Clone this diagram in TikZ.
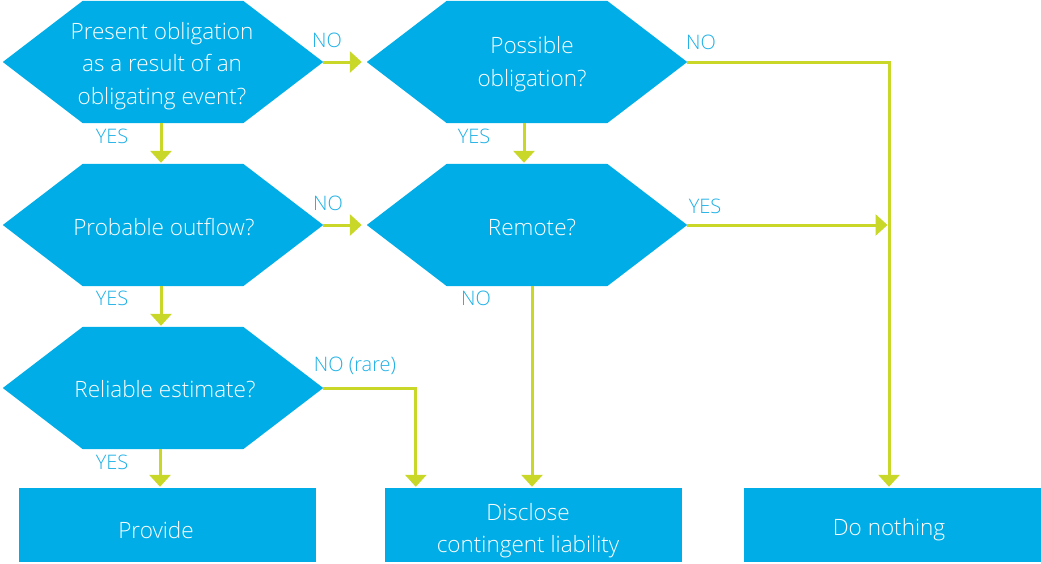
\documentclass[tikz,border=0pt]{standalone}
\usepackage{fontspec}
\IfFontExistsTF{Open Sans Light}{\setmainfont{Open Sans Light}}{\setmainfont{Open Sans}}
\usetikzlibrary{arrows.meta,calc}
\definecolor{qblue}{RGB}{0,173,230}
\definecolor{lblue}{RGB}{30,176,230}
\definecolor{lime}{RGB}{200,215,40}
\begin{document}
\begin{tikzpicture}[x=1pt,y=-1pt,
  font=\fontsize{22.5}{32.5}\selectfont,
  hex/.style={minimum width=320pt, minimum height=122pt, inner sep=0pt},
  box/.style={fill=qblue, minimum width=297pt, minimum height=74pt, inner sep=0pt},
  txt/.style={text=white, align=center, inner sep=0pt},
  lbl/.style={text=lblue, font=\fontsize{20}{24}\selectfont, inner sep=0pt},
  arr/.style={draw=lime, line width=3pt, line join=miter, shorten >=1pt, -{Triangle[width=21pt,length=12pt]}}]
\useasboundingbox (0,0) rectangle (1041,563);
% question hexagons
\node[hex] (h1) at (163,62) {};
\node[hex] (h2) at (163,225) {};
\node[hex] (h3) at (163,388) {};
\node[hex] (p1) at (527,62) {};
\node[hex] (r1) at (527,225) {};
\foreach \n in {h1,h2,h3,p1,r1}
  \fill[qblue] (\n.west) -- ([xshift=80pt]\n.north west) -- ([xshift=-80pt]\n.north east) -- (\n.east)
    -- ([xshift=-80pt]\n.south east) -- ([xshift=80pt]\n.south west) -- cycle;
\node[txt] (t1) at (162,66) {Present obligation\\as a result of an\\obligating event?};
\node[txt] (t2) at (164,227) {Probable outflow?};
\node[txt] (t3) at (165,389.5) {Reliable estimate?};
\node[txt] (t4) at (532,64) {Possible\\obligation?};
\node[txt] (t5) at (532,227.5) {Remote?};
% outcome boxes
\node[box] (b1) at (167.5,525) {};
\node[box] (b2) at (533.5,525) {};
\node[box] (b3) at (892,525) {};
\node[txt] (t6) at (156,530) {Provide};
\node[txt] (t7) at (528,530.5) {Disclose\\contingent liability};
\node[txt] (t8) at (889,530) {Do nothing};
% connectors
\draw[arr] ([xshift=-2pt]h1.south) -- ([xshift=-2pt]h2.north);
\draw[arr,shorten >=5pt] (h1.east) -- (p1.west);
\draw[arr] ([xshift=-3pt]p1.south) -- ([xshift=-3pt]r1.north);
\draw[arr,shorten >=5pt] (h2.east) -- (r1.west);
\draw[arr] ([xshift=-2pt]h2.south) -- ([xshift=-2pt]h3.north);
\draw[arr] ([xshift=-3pt]h3.south) -- ([xshift=-3pt]h3.south |- b1.north);
\draw[arr] (h3.east) -| ([xshift=31pt]b2.north west);
\draw[arr] ([xshift=-1.5pt]r1.south -| b2.north) -- ([xshift=-1.5pt]b2.north);
\draw[arr] (p1.east) -| ([xshift=-3pt]b3.north);
\draw[arr,shorten >=1.5pt] (r1.east) -- ([xshift=-3pt]r1.east -| b3.north);
% labels
\node[lbl] (l1) at (327,40) {NO};
\node[lbl] (l2) at (112,136) {YES};
\node[lbl] (l3) at (701,42) {NO};
\node[lbl] (l4) at (474,136) {YES};
\node[lbl] (l5) at (328,203) {NO};
\node[lbl] (l6) at (705,206) {YES};
\node[lbl] (l7) at (112,298) {YES};
\node[lbl] (l8) at (476,298) {NO};
\node[lbl] (l9) at (355,366) {NO (rare)};
\node[lbl] (l10) at (112,462) {YES};
\end{tikzpicture}
\end{document}
